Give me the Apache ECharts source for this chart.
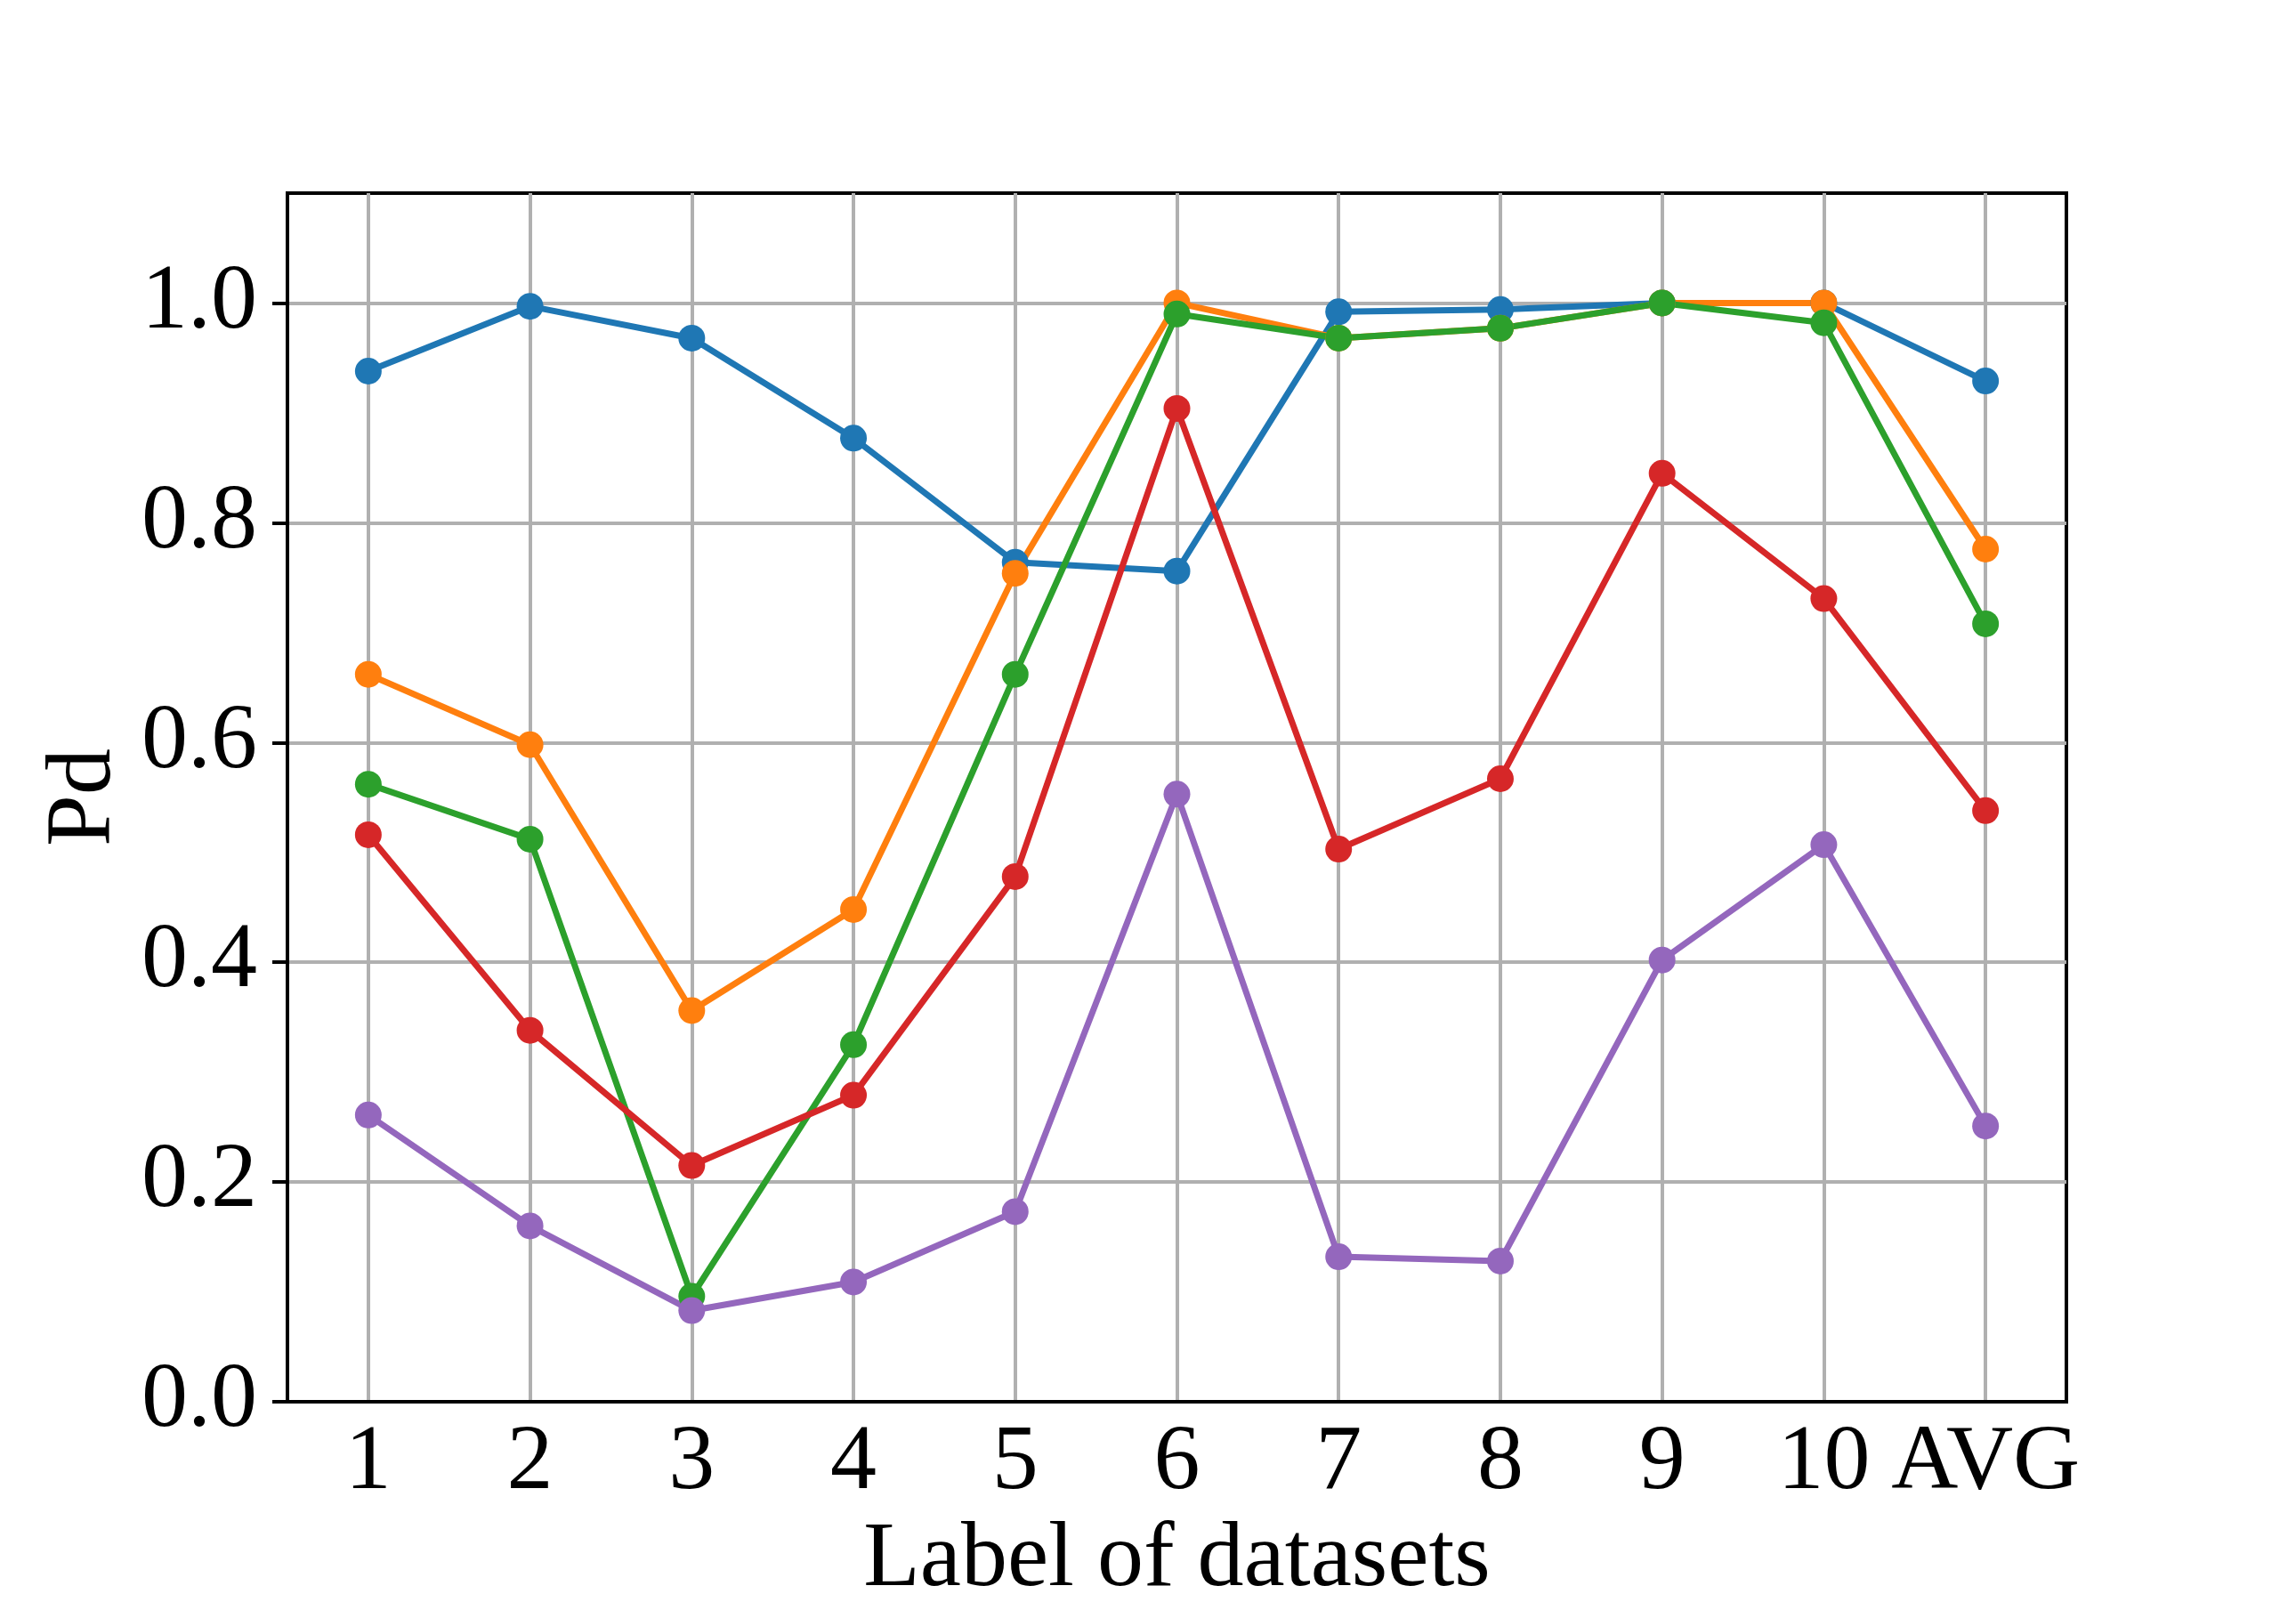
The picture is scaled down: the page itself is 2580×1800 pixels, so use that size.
<!DOCTYPE html>
<html>
<head>
<meta charset="utf-8">
<script src="https://cdn.jsdelivr.net/npm/echarts@6/dist/echarts.min.js"></script>
<style>
  html, body { margin: 0; padding: 0; background: #fff; }
  #chart { width: 2580px; height: 1800px; }
</style>
</head>
<body>
<div id="chart"></div>
<script>
// dataset labels on x
const categories = ['1', '2', '3', '4', '5', '6', '7', '8', '9', '10', 'AVG'];
const yTicks = [0, 0.2, 0.4, 0.6, 0.8, 1.0];

// Pd values per method
const blueVals   = [0.938, 0.997, 0.968, 0.877, 0.764, 0.756, 0.992, 0.994, 1.0, 1.0, 0.929];
const orangeVals = [0.662, 0.598, 0.356, 0.448, 0.754, 1.0, 0.968, 0.977, 1.0, 1.0, 0.776];
const greenVals  = [0.562, 0.512, 0.096, 0.325, 0.662, 0.990, 0.968, 0.977, 1.0, 0.982, 0.708];
const redVals    = [0.516, 0.338, 0.215, 0.279, 0.478, 0.904, 0.503, 0.567, 0.845, 0.731, 0.538];
const purpleVals = [0.261, 0.160, 0.083, 0.109, 0.173, 0.553, 0.132, 0.128, 0.402, 0.507, 0.251];

const colors = ['#1f77b4', '#ff7f0e', '#2ca02c', '#d62728', '#9467bd'];
const FONT = 'Liberation Serif';

let myChart = echarts.init(document.getElementById('chart'));

function lineSeries(name, data) {
  return {
    name: name,
    type: 'line',
    data: data,
    symbol: 'circle',
    symbolSize: 30,
    lineStyle: { width: 7 },
    emphasis: { disabled: true },
    animation: false
  };
}

let option = {
  color: colors,
  animation: false,
  textStyle: { fontFamily: FONT, color: '#000' },
  grid: {
    left: 323,
    right: 258,
    top: 217,
    bottom: 225,
    outerBoundsMode: 'none',
    containLabel: false,
    show: true,
    borderColor: '#000',
    borderWidth: 4,
    backgroundColor: 'transparent'
  },
  xAxis: {
    type: 'category',
    data: categories,
    boundaryGap: true,
    name: 'Label of datasets',
    nameLocation: 'middle',
    nameGap: 120,
    nameTextStyle: { fontFamily: FONT, fontSize: 104, color: '#000' },
    axisLine: { lineStyle: { color: '#000', width: 4 } },
    axisTick: { alignWithLabel: true, length: 17, lineStyle: { color: '#000', width: 4 } },
    axisLabel: { fontFamily: FONT, fontSize: 104, color: '#000', margin: 18, interval: 0 },
    splitLine: { show: true, alignWithLabel: true, lineStyle: { color: '#b0b0b0', width: 4 } }
  },
  yAxis: {
    type: 'value',
    min: 0,
    max: 1.1,
    interval: 0.2,
    name: 'Pd',
    nameLocation: 'middle',
    nameGap: 168,
    nameTextStyle: { fontFamily: FONT, fontSize: 104, color: '#000' },
    axisLine: { show: true, lineStyle: { color: '#000', width: 4 } },
    axisTick: {
      show: true, length: 17, customValues: yTicks,
      lineStyle: { color: '#000', width: 4 }
    },
    axisLabel: {
      fontFamily: FONT, fontSize: 104, color: '#000', margin: 34,
      customValues: yTicks,
      formatter: function (v) { return v.toFixed(1); }
    },
    splitLine: { show: true, lineStyle: { color: '#b0b0b0', width: 4 } }
  },
  series: [
    lineSeries('Blue', blueVals),
    lineSeries('Orange', orangeVals),
    lineSeries('Green', greenVals),
    lineSeries('Red', redVals),
    lineSeries('Purple', purpleVals)
  ]
};
myChart.setOption(option);
</script>
</body>
</html>
